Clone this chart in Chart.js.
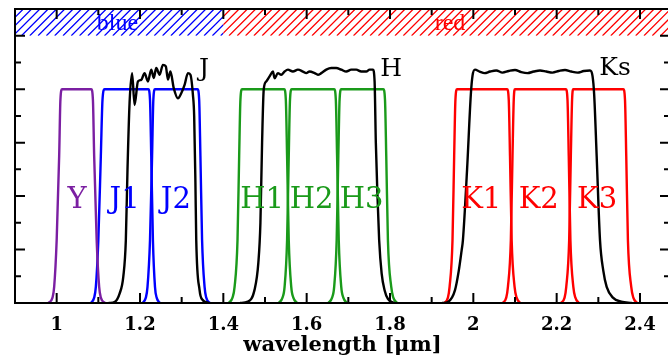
<!DOCTYPE html>
<html>
<head>
<meta charset="utf-8">
<script src="https://cdn.jsdelivr.net/npm/chart.js@4.4.1/dist/chart.umd.min.js"></script>
<style>
  html, body { margin: 0; padding: 0; background: #fff; overflow: hidden; }
  canvas { display: block; }
</style>
</head>
<body>
<canvas id="filterPlot" width="670" height="356"></canvas>
<script>
// Broad-band transmission curves [wavelength um, transmission]
const bandJ = [[1.125,0],[1.140,0.005],[1.151,0.035],[1.160,0.10],[1.166,0.235],[1.170,0.5],[1.175,0.75],[1.181,0.86],[1.187,0.741],[1.195,0.829],[1.203,0.835],[1.211,0.86],[1.219,0.829],[1.227,0.873],[1.233,0.842],[1.239,0.879],[1.247,0.854],[1.255,0.891],[1.262,0.885],[1.267,0.836],[1.273,0.866],[1.281,0.804],[1.291,0.766],[1.299,0.785],[1.307,0.816],[1.315,0.86],[1.321,0.854],[1.327,0.779],[1.330,0.70],[1.333,0.45],[1.335,0.235],[1.343,0.048],[1.350,0.012],[1.365,0]];
const bandH = [[1.440,0],[1.459,0.005],[1.475,0.05],[1.484,0.15],[1.489,0.3],[1.493,0.6],[1.497,0.8],[1.503,0.829],[1.511,0.848],[1.519,0.866],[1.523,0.841],[1.531,0.86],[1.539,0.854],[1.547,0.866],[1.555,0.873],[1.567,0.866],[1.579,0.873],[1.591,0.866],[1.599,0.86],[1.607,0.866],[1.619,0.86],[1.627,0.854],[1.635,0.86],[1.647,0.873],[1.659,0.879],[1.671,0.879],[1.683,0.873],[1.695,0.866],[1.707,0.873],[1.719,0.873],[1.731,0.866],[1.743,0.866],[1.751,0.873],[1.759,0.873],[1.763,0.83],[1.766,0.6],[1.770,0.4],[1.774,0.235],[1.780,0.11],[1.787,0.048],[1.795,0.015],[1.810,0]];
const bandKs = [[1.925,0],[1.940,0.005],[1.956,0.048],[1.965,0.12],[1.972,0.198],[1.975,0.235],[1.985,0.5],[1.994,0.78],[1.998,0.85],[2.004,0.873],[2.015,0.866],[2.027,0.86],[2.040,0.866],[2.055,0.87],[2.070,0.862],[2.085,0.868],[2.100,0.872],[2.115,0.864],[2.130,0.86],[2.145,0.866],[2.160,0.87],[2.175,0.866],[2.190,0.862],[2.205,0.868],[2.220,0.872],[2.235,0.866],[2.250,0.862],[2.265,0.868],[2.280,0.870],[2.286,0.85],[2.290,0.78],[2.296,0.55],[2.304,0.235],[2.312,0.12],[2.320,0.06],[2.335,0.02],[2.355,0.005],[2.380,0]];

// Medium-band filters
const filtY  = [[0.980,0],[0.990,0.02],[0.994,0.06],[1.000,0.235],[1.006,0.55],[1.009,0.76],[1.013,0.8],[1.083,0.8],[1.087,0.76],[1.090,0.55],[1.096,0.235],[1.102,0.06],[1.106,0.02],[1.116,0]];
const filtJ1 = [[1.082,0],[1.090,0.02],[1.094,0.06],[1.100,0.235],[1.106,0.55],[1.110,0.76],[1.115,0.8],[1.220,0.8],[1.224,0.76],[1.227,0.55],[1.231,0.235],[1.236,0.06],[1.240,0.02],[1.248,0]];
const filtJ2 = [[1.206,0],[1.214,0.02],[1.218,0.06],[1.224,0.235],[1.229,0.55],[1.232,0.76],[1.236,0.8],[1.338,0.8],[1.342,0.76],[1.345,0.55],[1.349,0.235],[1.355,0.06],[1.359,0.02],[1.368,0]];
const filtH1 = [[1.413,0],[1.422,0.02],[1.427,0.06],[1.434,0.235],[1.438,0.55],[1.441,0.76],[1.445,0.8],[1.546,0.8],[1.550,0.76],[1.553,0.55],[1.557,0.235],[1.563,0.06],[1.568,0.02],[1.577,0]];
const filtH2 = [[1.533,0],[1.542,0.02],[1.547,0.06],[1.553,0.235],[1.557,0.55],[1.560,0.76],[1.564,0.8],[1.666,0.8],[1.670,0.76],[1.673,0.55],[1.677,0.235],[1.683,0.06],[1.688,0.02],[1.697,0]];
const filtH3 = [[1.652,0],[1.661,0.02],[1.666,0.06],[1.672,0.235],[1.676,0.55],[1.679,0.76],[1.683,0.8],[1.784,0.8],[1.788,0.76],[1.791,0.55],[1.795,0.235],[1.803,0.06],[1.808,0.02],[1.817,0]];
const filtK1 = [[1.930,0],[1.939,0.02],[1.943,0.06],[1.950,0.235],[1.954,0.55],[1.957,0.76],[1.961,0.8],[2.081,0.8],[2.085,0.76],[2.088,0.55],[2.092,0.235],[2.099,0.06],[2.104,0.02],[2.112,0]];
const filtK2 = [[2.070,0],[2.079,0.02],[2.083,0.06],[2.090,0.235],[2.094,0.55],[2.097,0.76],[2.100,0.8],[2.222,0.8],[2.226,0.76],[2.229,0.55],[2.233,0.235],[2.240,0.06],[2.245,0.02],[2.253,0]];
const filtK3 = [[2.210,0],[2.219,0.02],[2.223,0.06],[2.230,0.235],[2.234,0.55],[2.237,0.76],[2.240,0.8],[2.360,0.8],[2.364,0.76],[2.367,0.55],[2.371,0.235],[2.379,0.06],[2.384,0.02],[2.393,0]];

// Labels: [text, wavelength, transmission]
const filterLabels = [['Y',1.049,0.385],['J1',1.163,0.385],['J2',1.286,0.385],['H1',1.493,0.385],['H2',1.612,0.385],['H3',1.732,0.385],['K1',2.019,0.385],['K2',2.157,0.385],['K3',2.297,0.385]];
const filterLabelColors = ['#7b1fa2','#0000ff','#0000ff','#1a9a1a','#1a9a1a','#1a9a1a','#ff0000','#ff0000','#ff0000'];
const bandLabels = [['J',1.3535,0.874],['H',1.803,0.874],['Ks',2.340,0.877]];

// Hatched arm regions along the top
const armEdges = [0.9, 1.4, 2.472];
const armNames = ['blue', 'red'];
const armColors = ['#0000ff', '#ff0000'];
const armTextX = [1.146, 1.944];
const armRange = [1.0, 1.1];

// Axis ticks
const xTickVals = [1, 1.2, 1.4, 1.6, 1.8, 2, 2.2, 2.4];
const xMinorVals = [1.1, 1.3, 1.5, 1.7, 1.9, 2.1, 2.3];
const yTickVals = [0.2, 0.4, 0.6, 0.8, 1.0];
const yMinorVals = [0.1, 0.3, 0.5, 0.7, 0.9];

function pts(arr) { return arr.map(p => ({x: p[0], y: p[1]})); }
function line(arr, color) {
    return { data: pts(arr), borderColor: color, borderWidth: 2.4, pointRadius: 0, fill: false, cubicInterpolationMode: 'monotone' };
}

// decorations: hatched arms, frame, inward ticks, labels
const decor = {
    id: 'decor',
    beforeDatasetsDraw(chart) {
        const {ctx, chartArea: a, scales: {x, y}} = chart;
        const yt = y.getPixelForValue(armRange[1]);
        const yb = y.getPixelForValue(armRange[0]);
        const h = yb - yt;
        for (let i = 0; i < armNames.length; i++) {
            const x0 = x.getPixelForValue(armEdges[i]);
            const x1 = Math.min(x.getPixelForValue(armEdges[i + 1]), a.right);
            ctx.save();
            ctx.beginPath();
            ctx.rect(x0, yt, x1 - x0, h);
            ctx.clip();
            ctx.strokeStyle = armColors[i];
            ctx.lineWidth = 1.3;
            ctx.beginPath();
            for (let s = a.left - h; s < a.right; s += 8.3) {
                ctx.moveTo(s, yb);
                ctx.lineTo(s + h, yt);
            }
            ctx.stroke();
            ctx.restore();
            ctx.save();
            ctx.fillStyle = armColors[i];
            ctx.font = '24px "Liberation Serif"';
            ctx.textAlign = 'center';
            ctx.textBaseline = 'middle';
            ctx.fillText(armNames[i], x.getPixelForValue(armTextX[i]), (yt + yb) / 2 + 1);
            ctx.restore();
        }
    },
    afterDraw(chart) {
        const {ctx, chartArea: a, scales: {x, y}} = chart;
        ctx.save();
        ctx.textAlign = 'center';
        ctx.textBaseline = 'middle';
        ctx.font = '29px "DejaVu Serif"';
        filterLabels.forEach((l, i) => {
            ctx.fillStyle = filterLabelColors[i];
            ctx.fillText(l[0], x.getPixelForValue(l[1]), y.getPixelForValue(l[2]));
        });
        ctx.fillStyle = '#000';
        ctx.font = '25px "DejaVu Serif"';
        bandLabels.forEach(l => ctx.fillText(l[0], x.getPixelForValue(l[1]), y.getPixelForValue(l[2])));

        ctx.strokeStyle = '#000';
        ctx.lineWidth = 2;
        ctx.strokeRect(a.left, a.top, a.right - a.left, a.bottom - a.top);
        ctx.beginPath();
        const xt = (v, len) => {
            const px = x.getPixelForValue(v);
            ctx.moveTo(px, a.bottom); ctx.lineTo(px, a.bottom - len);
            ctx.moveTo(px, a.top); ctx.lineTo(px, a.top + len);
        };
        const yt = (v, len) => {
            const py = y.getPixelForValue(v);
            ctx.moveTo(a.left, py); ctx.lineTo(a.left + len, py);
            ctx.moveTo(a.right, py); ctx.lineTo(a.right - len, py);
        };
        xTickVals.forEach(v => xt(v, 10));
        xMinorVals.forEach(v => xt(v, 6));
        yTickVals.forEach(v => yt(v, 10));
        yMinorVals.forEach(v => yt(v, 6));
        ctx.stroke();
        ctx.restore();
    }
};

const chart = new Chart(document.getElementById('filterPlot'), {
    type: 'line',
    data: {
        datasets: [
            line(bandJ, '#000'), line(bandH, '#000'), line(bandKs, '#000'),
            line(filtY, '#7b1fa2'),
            line(filtJ1, '#0000ff'), line(filtJ2, '#0000ff'),
            line(filtH1, '#1a9a1a'), line(filtH2, '#1a9a1a'), line(filtH3, '#1a9a1a'),
            line(filtK1, '#ff0000'), line(filtK2, '#ff0000'), line(filtK3, '#ff0000')
        ]
    },
    options: {
        responsive: false,
        animation: false,
        layout: { padding: { left: 15, top: 9, right: 0, bottom: 0 } },
        plugins: { legend: { display: false }, tooltip: { enabled: false } },
        scales: {
            x: {
                type: 'linear', min: 0.9, max: 2.472,
                grid: { display: false }, border: { display: false },
                afterBuildTicks: s => { s.ticks = xTickVals.map(v => ({ value: v })); },
                afterFit: s => { s.height = 53; },
                ticks: {
                    padding: 4, color: '#000', maxRotation: 0, autoSkip: false,
                    font: { family: 'DejaVu Serif', size: 18, weight: 'bold' },
                    callback: v => String(v)
                },
                title: {
                    display: true, text: 'wavelength [\u03bcm]', color: '#000',
                    font: { family: 'DejaVu Serif', size: 21, weight: 'bold' },
                    padding: { top: 0, bottom: -2 }
                }
            },
            y: { display: false, min: 0, max: 1.1 }
        }
    },
    plugins: [decor]
});
</script>
</body>
</html>
